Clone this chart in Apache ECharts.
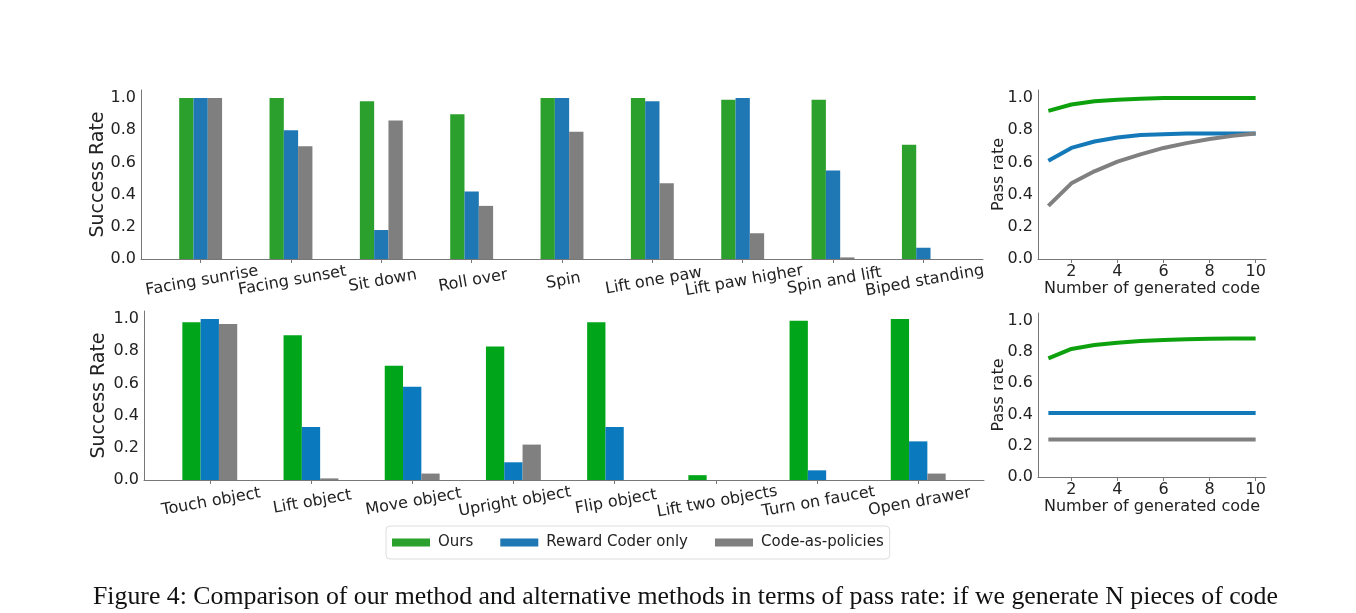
<!DOCTYPE html>
<html>
<head>
<meta charset="utf-8">
<script src="https://cdn.jsdelivr.net/npm/echarts@6/dist/echarts.min.js"></script>
<style>
  html, body { margin: 0; padding: 0; background: #fff; }
  #main { width: 1356px; height: 613px; }
</style>
</head>
<body>
<div id="main"></div>
<script>
// quadruped tasks (top row)
var topTasks = ['Facing sunrise', 'Facing sunset', 'Sit down', 'Roll over', 'Spin',
  'Lift one paw', 'Lift paw higher', 'Spin and lift', 'Biped standing'];
var topOurs = [1.0, 1.0, 0.98, 0.90, 1.0, 1.0, 0.99, 0.99, 0.71];
var topReward = [1.0, 0.80, 0.18, 0.42, 1.0, 0.98, 1.0, 0.55, 0.07];
var topCap = [1.0, 0.70, 0.86, 0.33, 0.79, 0.47, 0.16, 0.01, 0.0];

// manipulation tasks (bottom row)
var botTasks = ['Touch object', 'Lift object', 'Move object', 'Upright object',
  'Flip object', 'Lift two objects', 'Turn on faucet', 'Open drawer'];
var botOurs = [0.98, 0.90, 0.71, 0.83, 0.98, 0.03, 0.99, 1.0];
var botReward = [1.0, 0.33, 0.58, 0.11, 0.33, 0.0, 0.06, 0.24];
var botCap = [0.97, 0.01, 0.04, 0.22, 0.0, 0.0, 0.0, 0.04];

// pass rate vs number of generated code
var nCodes = [1, 2, 3, 4, 5, 6, 7, 8, 9, 10];
var passTopOurs = [0.92, 0.96, 0.98, 0.99, 0.995, 1.0, 1.0, 1.0, 1.0, 1.0];
var passTopReward = [0.61, 0.69, 0.73, 0.755, 0.77, 0.775, 0.78, 0.78, 0.78, 0.78];
var passTopCap = [0.33, 0.47, 0.545, 0.605, 0.65, 0.69, 0.72, 0.745, 0.765, 0.78];
var passBotOurs = [0.76, 0.82, 0.845, 0.86, 0.87, 0.877, 0.882, 0.885, 0.886, 0.887];
var passBotReward = [0.41, 0.41, 0.41, 0.41, 0.41, 0.41, 0.41, 0.41, 0.41, 0.41];
var passBotCap = [0.24, 0.24, 0.24, 0.24, 0.24, 0.24, 0.24, 0.24, 0.24, 0.24];

var yTicks = [0, 0.2, 0.4, 0.6, 0.8, 1.0];
var xTicksPass = [2, 4, 6, 8, 10];

var names = ['Ours', 'Reward Coder only', 'Code-as-policies'];
var font = 'DejaVu Sans';
var axisColor = '#777';
var textColor = '#222';

function pairs(xs, ys) {
  return ys.map(function (v, i) { return [xs[i], v]; });
}
function idx(arr) {
  return arr.map(function (_, i) { return i; });
}

function yAxis(grid, name, gap) {
  return {
    type: 'value', gridIndex: grid, min: 0, max: 1.05,
    name: name, nameLocation: 'middle', nameGap: gap, nameMoveOverlap: false,
    nameTextStyle: { fontFamily: font, fontSize: name === 'Success Rate' ? 19 : 16, color: textColor },
    axisLine: { show: true, onZero: false, lineStyle: { color: axisColor, width: 1 } },
    axisTick: { show: false },
    axisLabel: { customValues: yTicks, margin: 5, fontFamily: font, fontSize: 16, color: textColor,
      formatter: function (v) { return v.toFixed(1); } },
    splitLine: { show: false }
  };
}

function barXAxis(grid, tasks, lo, hi) {
  // blank labels at both ends keep the min/max overlap check away from real labels
  var labelAt = [lo].concat(idx(tasks), [hi]);
  return {
    type: 'value', gridIndex: grid, min: lo, max: hi,
    axisLine: { show: true, onZero: false, lineStyle: { color: axisColor, width: 1 } },
    axisTick: { show: true, customValues: idx(tasks), length: 4, lineStyle: { color: axisColor } },
    axisLabel: { customValues: labelAt, rotate: 10, align: 'center', verticalAlign: 'top',
      showMinLabel: true, showMaxLabel: true, hideOverlap: false,
      margin: 14, fontFamily: font, fontSize: 16, color: textColor,
      formatter: function (v) {
        var i = Math.round(v);
        return Math.abs(v - i) < 1e-6 && tasks[i] ? tasks[i] : '';
      } },
    splitLine: { show: false }
  };
}

function passXAxis(grid) {
  return {
    type: 'value', gridIndex: grid, min: 0.55, max: 10.45,
    name: 'Number of generated code', nameLocation: 'middle', nameGap: 18,
    nameTextStyle: { fontFamily: font, fontSize: 16, color: textColor },
    axisLine: { show: true, onZero: false, lineStyle: { color: axisColor, width: 1 } },
    axisTick: { show: true, customValues: xTicksPass, length: 4, lineStyle: { color: axisColor } },
    axisLabel: { customValues: xTicksPass, margin: 5, fontFamily: font, fontSize: 16, color: textColor },
    splitLine: { show: false }
  };
}

function bars(grid, tasks, values, colors, width) {
  return values.map(function (vals, k) {
    return {
      name: names[k], type: 'bar', xAxisIndex: grid, yAxisIndex: grid,
      barWidth: width, barGap: '0%',
      itemStyle: { color: colors[k] },
      data: pairs(idx(tasks), vals)
    };
  });
}

function lines(grid, values, colors) {
  return values.map(function (vals, k) {
    return {
      name: names[k], type: 'line', xAxisIndex: grid, yAxisIndex: grid,
      showSymbol: false, symbol: 'none',
      lineStyle: { color: colors[k], width: 4 },
      itemStyle: { color: colors[k] },
      data: pairs(nCodes, vals)
    };
  });
}

var topColors = ['#2ca02c', '#1f77b4', '#7f7f7f'];
var botColors = ['#00a51a', '#0a79bd', '#808080'];
var passColors = ['#0ea10e', '#1479b8', '#808080'];

var chart = echarts.init(document.getElementById('main'));
var option = {
  animation: false,
  backgroundColor: '#fff',
  title: {
    text: 'Figure 4: Comparison of our method and alternative methods in terms of pass rate: if we generate N pieces of code',
    left: 88, top: 579,
    textStyle: { fontFamily: 'Liberation Serif', fontSize: 25.8, fontWeight: 'normal', color: '#111' }
  },
  legend: {
    data: names,
    left: 386, top: 526,
    padding: [9, 6],
    itemWidth: 38, itemHeight: 8, itemGap: 27,
    icon: 'rect',
    borderColor: '#ddd', borderWidth: 1, borderRadius: 4,
    textStyle: { fontFamily: font, fontSize: 15, color: textColor, padding: [0, 0, 0, 3] }
  },
  grid: [
    { left: 141, right: 373, top: 90, bottom: 354 },
    { left: 1038, right: 90, top: 90, bottom: 354 },
    { left: 144, right: 372, top: 311, bottom: 133 },
    { left: 1038, right: 90, top: 313, bottom: 136 }
  ],
  xAxis: [
    barXAxis(0, topTasks, -0.66, 8.66),
    passXAxis(1),
    barXAxis(2, botTasks, -0.65, 7.65),
    passXAxis(3)
  ],
  yAxis: [
    yAxis(0, 'Success Rate', 33),
    yAxis(1, 'Pass rate', 31),
    yAxis(2, 'Success Rate', 35),
    yAxis(3, 'Pass rate', 31)
  ],
  series: [].concat(
    bars(0, topTasks, [topOurs, topReward, topCap], topColors, 14.3),
    lines(1, [passTopOurs, passTopReward, passTopCap], passColors),
    bars(2, botTasks, [botOurs, botReward, botCap], botColors, 18.3),
    lines(3, [passBotOurs, passBotReward, passBotCap], passColors)
  )
};
chart.setOption(option);
</script>
</body>
</html>
